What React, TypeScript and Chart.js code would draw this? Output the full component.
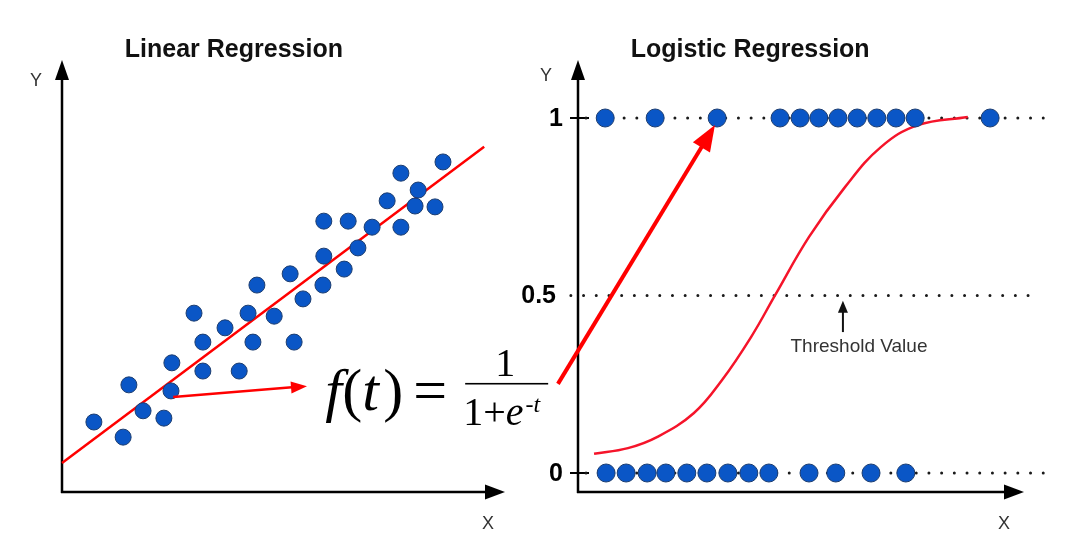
import React, { useEffect, useRef } from "react";
import { Chart, registerables } from "chart.js";

Chart.register(...registerables);

const W = 1084;
const H = 557;

// ---------- Linear regression (left) ----------
const linX = [0.72, 1.38, 1.51, 1.83, 2.3, 2.46, 2.48, 2.98, 3.18, 3.18, 3.68, 4.0, 4.2, 4.31, 4.4, 4.79, 5.15, 5.24, 5.44, 5.89, 5.91, 5.91, 6.37, 6.46, 6.68, 7.0, 7.34, 7.65, 7.65, 7.97, 8.04, 8.42, 8.6];
const linY = [1.62, 1.27, 2.48, 1.88, 1.71, 2.34, 2.99, 4.14, 3.47, 2.8, 3.8, 2.8, 4.14, 3.47, 4.79, 4.07, 5.05, 3.47, 4.47, 4.79, 5.46, 6.27, 5.16, 6.27, 5.65, 6.13, 6.74, 7.38, 6.13, 6.62, 6.99, 6.6, 7.64];
const fitX = [0, 9.53];
const fitY = [0.67, 7.99];
const leftTitle = "Linear Regression";
const leftArrowFrom = [2.51, 2.2];
const leftArrowTo = [5.53, 2.45];
const formulaAt = [5.76, 1.9];

// ---------- Logistic regression (right) ----------
const oneX = [0.61, 1.73, 3.12, 4.53, 4.98, 5.4, 5.83, 6.26, 6.7, 7.13, 7.56, 9.24];
const zeroX = [0.63, 1.08, 1.55, 1.97, 2.44, 2.89, 3.36, 3.83, 4.28, 5.18, 5.78, 6.57, 7.35];
const sigX = [0.36, 1.12, 1.77, 2.6, 3.23, 3.88, 4.42, 5.18, 5.99, 6.79, 7.62, 8.74];
const sigY = [0.054, 0.07, 0.101, 0.169, 0.262, 0.383, 0.501, 0.665, 0.806, 0.918, 0.98, 1.003];
const guideOneX = [0.18, 10.54];
const guideHalfX = [-0.16, 10.36];
const guideZeroX = [0.18, 10.54];
const yTickValues = [0, 0.5, 1];
const yTickLabels = ["0", "0.5", "1"];
const rightTitle = "Logistic Regression";
const thresholdLabel = "Threshold Value";
const thresholdArrowX = 5.94;
const thresholdArrowY = [0.397, 0.485];
const thresholdTextAt = [6.3, 0.355];
const rightArrowFrom = [-0.45, 0.251];
const rightArrowTo = [3.07, 0.98];

const DOT_FILL = "#0a56c6";
const DOT_EDGE = "#1c3d70";
const SANS = '"Liberation Sans", Arial, sans-serif';
const SERIF = '"Liberation Serif", "Times New Roman", serif';

function arrow(ctx: CanvasRenderingContext2D, x1: number, y1: number, x2: number, y2: number, lw: number, headLen: number, headHalf: number, color: string) {
  const dx = x2 - x1, dy = y2 - y1;
  const len = Math.hypot(dx, dy);
  const ux = dx / len, uy = dy / len;
  const bx = x2 - ux * headLen, by = y2 - uy * headLen;
  ctx.save();
  ctx.strokeStyle = color;
  ctx.fillStyle = color;
  ctx.lineWidth = lw;
  ctx.lineCap = "butt";
  ctx.beginPath();
  ctx.moveTo(x1, y1);
  ctx.lineTo(bx + ux * 1, by + uy * 1);
  ctx.stroke();
  ctx.beginPath();
  ctx.moveTo(x2, y2);
  ctx.lineTo(bx - uy * headHalf, by + ux * headHalf);
  ctx.lineTo(bx + uy * headHalf, by - ux * headHalf);
  ctx.closePath();
  ctx.fill();
  ctx.restore();
}

function drawAxes(chart: any, yLabelPos: number[], xLabelPos: number[]) {
  const { ctx, chartArea } = chart;
  const { left, right, top, bottom } = chartArea;
  arrow(ctx, left, bottom + 1, left, top, 2.5, 20, 7, "#000");
  arrow(ctx, left - 1, bottom, right, bottom, 2.5, 20, 7.5, "#000");
  ctx.save();
  ctx.fillStyle = "#333";
  ctx.font = `18px ${SANS}`;
  ctx.textAlign = "center";
  ctx.textBaseline = "middle";
  ctx.fillText("Y", left + yLabelPos[0], top + yLabelPos[1]);
  ctx.fillText("X", right + xLabelPos[0], bottom + xLabelPos[1]);
  ctx.restore();
}

function drawTitle(chart: any, text: string, cx: number) {
  const { ctx } = chart;
  const x = chart.scales.x.getPixelForValue(cx);
  ctx.save();
  ctx.fillStyle = "#111";
  ctx.font = `bold 25px ${SANS}`;
  ctx.textAlign = "center";
  ctx.textBaseline = "alphabetic";
  ctx.fillText(text, x, 57);
  ctx.restore();
}

function drawFormula(ctx: CanvasRenderingContext2D, x0: number, base: number) {
  ctx.save();
  ctx.fillStyle = "#000";
  ctx.textAlign = "left";
  ctx.textBaseline = "alphabetic";
  const it = (s: number) => `italic ${s}px ${SERIF}`;
  const rg = (s: number) => `${s}px ${SERIF}`;
  ctx.font = it(60);
  ctx.fillText("f", x0 + 8, base);
  ctx.font = rg(60);
  ctx.fillText("(", x0 + 25, base);
  ctx.font = it(60);
  ctx.fillText("t", x0 + 45, base);
  ctx.font = rg(60);
  ctx.fillText(")", x0 + 66, base);
  ctx.fillText("=", x0 + 96, base);
  // fraction bar
  ctx.fillRect(x0 + 148, base - 27, 83, 1.6);
  ctx.font = rg(40);
  ctx.fillText("1", x0 + 178, base - 34);
  ctx.fillText("1+", x0 + 146, base + 15);
  const w1 = ctx.measureText("1+").width;
  ctx.font = it(40);
  ctx.fillText("e", x0 + 146 + w1, base + 15);
  const we = ctx.measureText("e").width;
  const sx = x0 + 146 + w1 + we + 2;
  ctx.font = rg(24);
  ctx.fillText("-", sx, base + 2);
  const wm = ctx.measureText("-").width;
  ctx.font = it(24);
  ctx.fillText("t", sx + wm, base + 2);
  ctx.restore();
}

const leftPlugin = {
  id: "leftDeco",
  beforeDatasetsDraw(chart: any) {
    drawAxes(chart, [-26, 21], [-17, 32]);
  },
  afterDatasetsDraw(chart: any) {
    const { ctx } = chart;
    const xs = chart.scales.x, ys = chart.scales.y;
    drawTitle(chart, leftTitle, 3.88);
    arrow(ctx, xs.getPixelForValue(leftArrowFrom[0]), ys.getPixelForValue(leftArrowFrom[1]),
      xs.getPixelForValue(leftArrowTo[0]), ys.getPixelForValue(leftArrowTo[1]), 2.5, 16, 6, "#ff0000");
    drawFormula(ctx, xs.getPixelForValue(formulaAt[0]), ys.getPixelForValue(formulaAt[1]));
  },
};

const rightPlugin = {
  id: "rightDeco",
  beforeDatasetsDraw(chart: any) {
    const { ctx, chartArea } = chart;
    const ys = chart.scales.y;
    drawAxes(chart, [-32, 16], [-20, 32]);
    ctx.save();
    ctx.strokeStyle = "#000";
    ctx.lineWidth = 2;
    ctx.fillStyle = "#000";
    ctx.font = `bold 25px ${SANS}`;
    ctx.textAlign = "right";
    ctx.textBaseline = "middle";
    yTickValues.forEach((v, i) => {
      const y = ys.getPixelForValue(v);
      const isMid = yTickLabels[i].length > 1;
      if (!isMid) {
        ctx.beginPath();
        ctx.moveTo(chartArea.left - 8, y);
        ctx.lineTo(chartArea.left + 11, y);
        ctx.stroke();
      }
      ctx.fillText(yTickLabels[i], chartArea.left - (isMid ? 22 : 15), y + 1);
    });
    ctx.restore();
  },
  afterDatasetsDraw(chart: any) {
    const { ctx } = chart;
    const xs = chart.scales.x, ys = chart.scales.y;
    drawTitle(chart, rightTitle, 3.86);
    arrow(ctx, xs.getPixelForValue(thresholdArrowX), ys.getPixelForValue(thresholdArrowY[0]),
      xs.getPixelForValue(thresholdArrowX), ys.getPixelForValue(thresholdArrowY[1]), 2, 12, 5, "#111");
    ctx.save();
    ctx.fillStyle = "#333";
    ctx.font = `19px ${SANS}`;
    ctx.textAlign = "center";
    ctx.textBaseline = "middle";
    ctx.fillText(thresholdLabel, xs.getPixelForValue(thresholdTextAt[0]), ys.getPixelForValue(thresholdTextAt[1]));
    ctx.restore();
    arrow(ctx, xs.getPixelForValue(rightArrowFrom[0]), ys.getPixelForValue(rightArrowFrom[1]),
      xs.getPixelForValue(rightArrowTo[0]), ys.getPixelForValue(rightArrowTo[1]), 4, 26, 10, "#ff0000");
  },
};

const commonOptions = (padding: any, xr: number[], yr: number[]) => ({
  responsive: false,
  animation: false as const,
  events: [] as any[],
  layout: { padding },
  scales: {
    x: { type: "linear" as const, display: false, min: xr[0], max: xr[1] },
    y: { type: "linear" as const, display: false, min: yr[0], max: yr[1] },
  },
  plugins: { legend: { display: false }, tooltip: { enabled: false }, title: { display: false } },
});

const dots = (xs: number[], ys: number[], r: number) => ({
  data: xs.map((x, i) => ({ x, y: ys[i] })),
  pointRadius: r,
  pointBackgroundColor: DOT_FILL,
  pointBorderColor: DOT_EDGE,
  pointBorderWidth: 1,
  showLine: false,
  clip: false as const,
  order: 0,
});

const dotted = (xs: number[], y: number) => ({
  data: xs.map((x) => ({ x, y })),
  showLine: true,
  borderColor: "#1a1a1a",
  borderWidth: 3,
  borderDash: [0, 12.7],
  borderCapStyle: "round" as const,
  pointRadius: 0,
  fill: false,
  clip: false as const,
  order: 3,
});

export default function App() {
  const leftRef = useRef<HTMLCanvasElement>(null);
  const rightRef = useRef<HTMLCanvasElement>(null);

  useEffect(() => {
    const left = new Chart(leftRef.current as HTMLCanvasElement, {
      type: "scatter",
      data: {
        datasets: [
          dots(linX, linY, 8) as any,
          {
            data: fitX.map((x, i) => ({ x, y: fitY[i] })),
            showLine: true,
            borderColor: "#ff0000",
            borderWidth: 2.5,
            pointRadius: 0,
            fill: false,
            clip: false,
            order: 1,
          },
        ],
      },
      options: commonOptions({ left: 62, top: 60, right: W - 505, bottom: H - 492 }, [0, 10], [0, 10]) as any,
      plugins: [leftPlugin],
    });

    const right = new Chart(rightRef.current as HTMLCanvasElement, {
      type: "scatter",
      data: {
        datasets: [
          dots(oneX, oneX.map(() => 1), 9) as any,
          dots(zeroX, zeroX.map(() => 0), 9) as any,
          {
            data: sigX.map((x, i) => ({ x, y: sigY[i] })),
            showLine: true,
            borderColor: "#f5142a",
            borderWidth: 2.5,
            pointRadius: 0,
            tension: 0.4,
            fill: false,
            clip: false,
            order: 1,
          },
          dotted(guideOneX, 1) as any,
          dotted(guideHalfX, 0.5) as any,
          dotted(guideZeroX, 0) as any,
        ],
      },
      options: commonOptions({ left: 578, top: 60, right: W - 1024, bottom: H - 492 }, [0, 10], [-0.0535, 1.1634]) as any,
      plugins: [rightPlugin],
    });

    return () => {
      left.destroy();
      right.destroy();
    };
  }, []);

  const cstyle: React.CSSProperties = { position: "absolute", left: 0, top: 0, width: W, height: H };
  return (
    <div style={{ position: "absolute", left: 0, top: 0, width: W, height: H, background: "#fff" }}>
      <canvas ref={leftRef} width={W} height={H} style={cstyle} />
      <canvas ref={rightRef} width={W} height={H} style={cstyle} />
    </div>
  );
}
